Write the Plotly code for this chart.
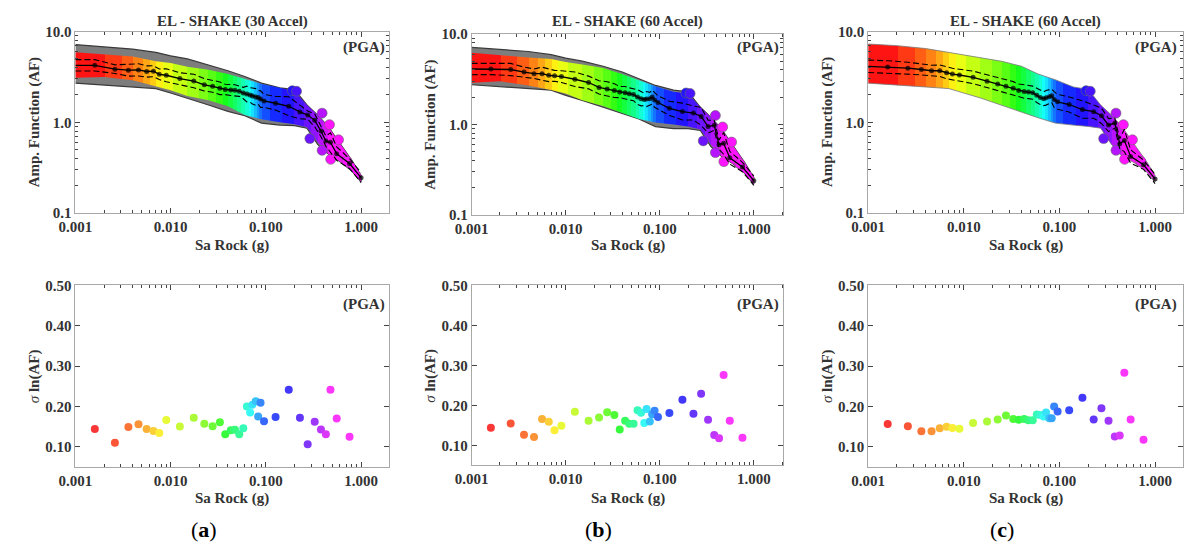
import colorsys
import numpy as np
import plotly.graph_objects as go

# ---------------- data ----------------
BIN_X = [0.0016, 0.0026, 0.0036, 0.0046, 0.0056, 0.0066, 0.0076, 0.0090, 0.0125, 0.0175,
         0.0226, 0.0276, 0.0329, 0.0375, 0.0428, 0.0474, 0.0526, 0.0580, 0.0632, 0.0684,
         0.0724, 0.0784, 0.0830, 0.0880, 0.0957, 0.1265, 0.1740, 0.2280, 0.2750, 0.3260,
         0.3790, 0.4270, 0.4770, 0.5550, 0.7570]

SIG_A = [0.144, 0.110, 0.149, 0.156, 0.144, 0.139, 0.134, 0.166, 0.150, 0.172,
         0.157, 0.151, 0.161, 0.131, 0.141, 0.142, 0.131, 0.146, 0.200, 0.185,
         0.204, 0.213, 0.175, 0.209, 0.163, 0.174, 0.241, 0.172, 0.106, 0.162,
         0.143, 0.131, 0.241, 0.170, 0.125]
SIG_B = [0.144, 0.155, 0.127, 0.121, 0.166, 0.159, 0.138, 0.149, 0.184, 0.162,
         0.170, 0.183, 0.176, 0.140, 0.162, 0.154, 0.154, 0.188, 0.182, 0.156,
         0.191, 0.160, 0.178, 0.187, 0.171, 0.181, 0.214, 0.179, 0.229, 0.164,
         0.126, 0.118, 0.276, 0.162, 0.119]
SIG_C = [0.157, 0.151, 0.139, 0.139, 0.146, 0.150, 0.147, 0.145, 0.159, 0.163,
         0.168, 0.178, 0.169, 0.167, 0.169, 0.166, 0.166, 0.180, 0.179, 0.175,
         0.185, 0.171, 0.171, 0.200, 0.188, 0.191, 0.222, 0.168, 0.196, 0.165,
         0.126, 0.128, 0.284, 0.168, 0.118]

# mean AF line: start at 0.001, the 35 bins, end at 1.0
LINE_X = [0.001] + BIN_X + [1.0]
MEAN_A = [4.25, 4.25, 3.85, 3.75, 3.78, 3.63, 3.65, 3.38, 3.30, 3.03, 2.85,
          2.59, 2.49, 2.37, 2.30, 2.27, 2.25, 2.20, 2.10, 2.05, 2.00,
          1.95, 1.90, 1.88, 1.80, 1.72, 1.62, 1.50, 1.30, 1.20, 1.05,
          0.80, 0.62, 0.60, 0.45, 0.35, 0.245]
MEAN_B = [4.10, 4.11, 4.05, 3.79, 3.64, 3.64, 3.49, 3.45, 3.38, 3.16, 2.91,
          2.57, 2.47, 2.37, 2.28, 2.24, 2.18, 2.14, 2.01, 1.93, 1.89,
          1.91, 1.93, 2.01, 1.87, 1.75, 1.51, 1.39, 1.34, 1.23, 0.95,
          0.98, 0.60, 0.62, 0.43, 0.34, 0.240]
MEAN_C = [4.14, 4.08, 3.95, 3.82, 3.70, 3.70, 3.51, 3.40, 3.32, 3.13, 2.84,
          2.64, 2.49, 2.37, 2.24, 2.18, 2.15, 2.12, 1.98, 1.87, 1.82,
          1.86, 1.91, 1.96, 1.78, 1.68, 1.57, 1.38, 1.31, 1.18, 0.93,
          0.98, 0.58, 0.63, 0.42, 0.34, 0.237]

# envelopes of the scatter clouds
ENV_X = [0.001, 0.002, 0.004, 0.007, 0.01, 0.015, 0.025, 0.04, 0.06, 0.09,
         0.14, 0.2, 0.27, 0.35, 0.45, 0.6, 0.8, 1.0]
GRAY_UP_A = [7.2, 6.8, 6.4, 5.9, 5.4, 5.0, 4.3, 3.7, 3.2, 2.7, 2.4, 2.3, 1.55, 1.2, 0.9, 0.58, 0.38, 0.26]
GRAY_LO_A = [2.7, 2.55, 2.45, 2.35, 2.1, 1.85, 1.55, 1.32, 1.18, 0.98, 0.93, 0.92, 0.86, 0.57, 0.45, 0.37, 0.29, 0.22]
COL_UP_A = [5.9, 5.6, 5.3, 4.7, 4.5, 4.1, 3.8, 3.4, 3.0, 2.65, 2.4, 2.2, 1.55, 1.2, 0.9, 0.58, 0.38, 0.26]
COL_LO_A = [3.1, 3.15, 2.9, 2.5, 2.25, 1.95, 1.75, 1.5, 1.2, 1.08, 1.0, 0.95, 0.88, 0.6, 0.45, 0.37, 0.29, 0.22]

GRAY_UP_B = [7.1, 6.8, 6.4, 5.9, 5.4, 5.0, 4.4, 3.8, 3.2, 2.7, 2.4, 2.3, 1.55, 1.2, 0.9, 0.58, 0.38, 0.26]
GRAY_LO_B = [2.75, 2.6, 2.5, 2.4, 2.1, 1.85, 1.55, 1.33, 1.15, 0.95, 0.9, 0.9, 0.86, 0.57, 0.45, 0.37, 0.29, 0.22]
COL_UP_B = [6.2, 5.8, 5.5, 5.3, 4.9, 4.6, 4.2, 3.6, 3.1, 2.65, 2.3, 2.2, 1.55, 1.2, 0.9, 0.58, 0.38, 0.26]
COL_LO_B = [2.9, 3.0, 2.7, 2.4, 2.2, 1.85, 1.6, 1.35, 1.15, 1.05, 1.0, 0.95, 0.88, 0.6, 0.45, 0.37, 0.29, 0.22]

COL_UP_C = [7.3, 7.0, 6.5, 5.9, 5.5, 5.2, 4.7, 4.15, 3.4, 2.95, 2.45, 2.3, 1.55, 1.2, 0.9, 0.58, 0.38, 0.26]
COL_LO_C = [2.7, 2.55, 2.45, 2.35, 2.1, 1.85, 1.55, 1.3, 1.12, 0.98, 0.93, 0.9, 0.86, 0.57, 0.42, 0.36, 0.29, 0.22]

# isolated points at high Sa
OUT_X = [0.19, 0.21, 0.39, 0.466, 0.29, 0.58, 0.48, 0.39, 0.71]
OUT_Y = [2.23, 2.2, 1.26, 0.94, 0.66, 0.64, 0.39, 0.49, 0.37]

TITLES = ["EL - SHAKE (30 Accel)", "EL - SHAKE (60 Accel)", "EL - SHAKE (60 Accel)"]
PANEL_TAGS = ["a", "b", "c"]
X_TICKS = [0.001, 0.01, 0.1, 1.0]
X_TICKTEXT = ["0.001", "0.010", "0.100", "1.000"]
YT_TICKS = [0.1, 1.0, 10.0]
YT_TICKTEXT = ["0.1", "1.0", "10.0"]
YB_TICKS = [0.10, 0.20, 0.30, 0.40, 0.50]
YB_TICKTEXT = ["0.10", "0.20", "0.30", "0.40", "0.50"]

# ---------------- styling helpers ----------------
W, H = 1184, 555
FONT = "Liberation Serif"
TXT = "#333333"


def bold(lst):
    return ["<b>%s</b>" % s for s in lst]


def bin_color(i, s=0.92, v=1.0):
    h = min(300.0 * i / 32.0, 300.0) / 360.0
    r, g, b = colorsys.hsv_to_rgb(h, s, v)
    return "rgb(%d,%d,%d)" % (round(r * 255), round(g * 255), round(b * 255))


BIN_COLORS = [bin_color(i) for i in range(len(BIN_X))]
DOT_COLORS = [bin_color(i, 0.78, 0.98) for i in range(len(BIN_X))]


def color_of_x(x):
    lb = np.log10(BIN_X)
    idx = int(np.argmin(np.abs(lb - np.log10(x))))
    return BIN_COLORS[idx]


def step_colorscale():
    lo_e, hi_e = np.log10(ENV_X[0]), np.log10(ENV_X[-1])
    f = lambda lx: float(np.clip((lx - lo_e) / (hi_e - lo_e), 0, 1))
    lb = np.log10(BIN_X)
    cs = []
    n = len(BIN_X)
    for i in range(n):
        a = 0.0 if i == 0 else f((lb[i - 1] + lb[i]) / 2)
        b = 1.0 if i == n - 1 else f((lb[i] + lb[i + 1]) / 2)
        cs.append([a, BIN_COLORS[i]])
        cs.append([b, BIN_COLORS[i]])
    return cs


CS = step_colorscale()

XD = [(59.3, 378.0), (461.7, 778.3), (864.3, 1184.0)]
XR = [(-3, 0.296), (-3, 0.315), (-3, 0.292)]
YT = [(24.3, 211.0), (26.7, 213.3), (24.3, 211.0)]
YB = [(285.7, 472.5), (285.7, 471.0), (285.7, 472.7)]

fig = go.Figure()


def band(x, up, lo, xa, ya, fillcolor=None, gradient=False, line=None):
    xs = list(x) + list(x)[::-1]
    ys = list(up) + list(lo)[::-1]
    kw = dict(x=xs, y=ys, xaxis=xa, yaxis=ya, mode="lines", fill="toself",
              hoverinfo="skip", showlegend=False,
              line=line or dict(width=0))
    if gradient:
        kw["fillgradient"] = dict(type="horizontal", colorscale=CS)
    else:
        kw["fillcolor"] = fillcolor
    fig.add_trace(go.Scatter(**kw))


panels = [
    dict(gray=(GRAY_UP_A, GRAY_LO_A), col=(COL_UP_A, COL_LO_A), mean=MEAN_A, sig=SIG_A),
    dict(gray=(GRAY_UP_B, GRAY_LO_B), col=(COL_UP_B, COL_LO_B), mean=MEAN_B, sig=SIG_B),
    dict(gray=None, col=(COL_UP_C, COL_LO_C), mean=MEAN_C, sig=SIG_C),
]

for k, p in enumerate(panels):
    xt, yt = "x%d" % (2 * k + 1), "y%d" % (2 * k + 1)
    xb, yb = "x%d" % (2 * k + 2), "y%d" % (2 * k + 2)
    if p["gray"] is not None:
        band(ENV_X, p["gray"][0], p["gray"][1], xt, yt, fillcolor="#7d7d7d",
             line=dict(width=1.2, color="#3a3a3a"))
        band(ENV_X, p["col"][0], p["col"][1], xt, yt, gradient=True)
    else:
        band(ENV_X, p["col"][0], p["col"][1], xt, yt, gradient=True,
             line=dict(width=0.8, color="#777777"))
    fig.add_trace(go.Scatter(x=OUT_X, y=OUT_Y, xaxis=xt, yaxis=yt, mode="markers",
                             marker=dict(size=10, color=[color_of_x(v) for v in OUT_X],
                                         line=dict(width=0.6, color="#666")),
                             hoverinfo="skip", showlegend=False))
    mean = np.array(p["mean"])
    sig_line = np.array([p["sig"][0]] + p["sig"] + [p["sig"][-1]])
    for sgn in (1, -1):
        fig.add_trace(go.Scatter(x=LINE_X, y=mean * np.exp(sgn * sig_line), xaxis=xt, yaxis=yt,
                                 mode="lines", line=dict(color="black", width=1.1, dash="6px,3px"),
                                 hoverinfo="skip", showlegend=False))
    sizes = [0] + [5] * len(BIN_X) + [5]
    fig.add_trace(go.Scatter(x=LINE_X, y=mean, xaxis=xt, yaxis=yt, mode="lines+markers",
                             line=dict(color="black", width=1.3),
                             marker=dict(size=sizes, color="black", line=dict(width=0)),
                             hoverinfo="skip", showlegend=False))
    fig.add_trace(go.Scatter(x=BIN_X, y=p["sig"], xaxis=xb, yaxis=yb, mode="markers",
                             marker=dict(size=8, color=DOT_COLORS, line=dict(width=0)),
                             hoverinfo="skip", showlegend=False))

MINOR_X = [m * 10.0 ** e for e in range(-3, 1) for m in range(2, 10)]
MINOR_YT = [m * 10.0 ** e for e in range(-1, 1) for m in range(2, 10)]

tickfont = dict(family=FONT, size=15, color=TXT)
common = dict(showgrid=False, zeroline=False, showline=True, linecolor="#a8a8a8", linewidth=1,
              mirror="ticks", ticks="inside", ticklen=5, tickwidth=1, tickcolor="#444",
              tickfont=tickfont)

layout = dict(width=W, height=H, margin=dict(l=0, r=0, t=0, b=0),
              paper_bgcolor="white", plot_bgcolor="white", showlegend=False,
              font=dict(family=FONT))

annotations = []
for k in range(3):
    x0, x1 = XD[k]
    xdom = [x0 / W, min(x1 / W, 1.0)]
    for row in range(2):
        n = 2 * k + 1 + row
        xname = "xaxis" if n == 1 else "xaxis%d" % n
        yname = "yaxis" if n == 1 else "yaxis%d" % n
        t, b = (YT if row == 0 else YB)[k]
        ydom = [1 - b / H, 1 - t / H]
        layout[xname] = dict(common, type="log", range=list(XR[k]), domain=xdom,
                             anchor="y" if n == 1 else "y%d" % n,
                             tickvals=X_TICKS, ticktext=bold(X_TICKTEXT),
                             minor=dict(tickvals=MINOR_X, ticks="inside", ticklen=3,
                                        tickcolor="#444", showgrid=False))
        if row == 0:
            layout[yname] = dict(common, type="log", range=[-1, 1], domain=ydom,
                                 anchor="x" if n == 1 else "x%d" % n,
                                 tickvals=YT_TICKS, ticktext=bold(YT_TICKTEXT),
                                 minor=dict(tickvals=MINOR_YT, ticks="inside", ticklen=3,
                                            tickcolor="#444", showgrid=False))
        else:
            layout[yname] = dict(common, range=[0.05, 0.5], domain=ydom,
                                 anchor="x" if n == 1 else "x%d" % n,
                                 tickvals=YB_TICKS, ticktext=bold(YB_TICKTEXT))
        xc = (x0 + x1) / 2
        annotations.append(dict(text="<b>Sa Rock (g)</b>", x=xc / W, y=1 - ((245 if row == 0 else 505) / H),
                                xref="paper", yref="paper", showarrow=False,
                                font=dict(family=FONT, size=15, color=TXT), xanchor="center", yanchor="middle"))
        ytxt = "<b>Amp. Function (AF)</b>" if row == 0 else "<i>σ</i><b> ln(AF)</b>"
        annotations.append(dict(text=ytxt, x=(x0 - 42) / W, y=1 - ((t + b) / 2) / H,
                                xref="paper", yref="paper", showarrow=False, textangle=-90,
                                font=dict(family=FONT, size=15, color=TXT), xanchor="center", yanchor="middle"))
        pga_y = 41 if row == 0 else 305
        annotations.append(dict(text="<b>(PGA)</b>", x=(min(x1, 1182) - 2) / W, y=1 - pga_y / H,
                                xref="paper", yref="paper", showarrow=False,
                                font=dict(family=FONT, size=15, color=TXT), xanchor="right", yanchor="middle"))
    annotations.append(dict(text="<b>%s</b>" % TITLES[k], x=((x0 + x1) / 2) / W, y=1 - 14 / H,
                            xref="paper", yref="paper", showarrow=False,
                            font=dict(family=FONT, size=15, color=TXT), xanchor="center", yanchor="middle"))

TAG_X = [190, 590, 1000]
for k in range(3):
    annotations.append(dict(text="(<b>%s</b>)" % PANEL_TAGS[k], x=TAG_X[k] / W, y=1 - 537 / H,
                            xref="paper", yref="paper", showarrow=False,
                            font=dict(family=FONT, size=22, color="black"),
                            xanchor="center", yanchor="middle"))

layout["annotations"] = annotations
fig.update_layout(**layout)
fig.write_html("out.html")
